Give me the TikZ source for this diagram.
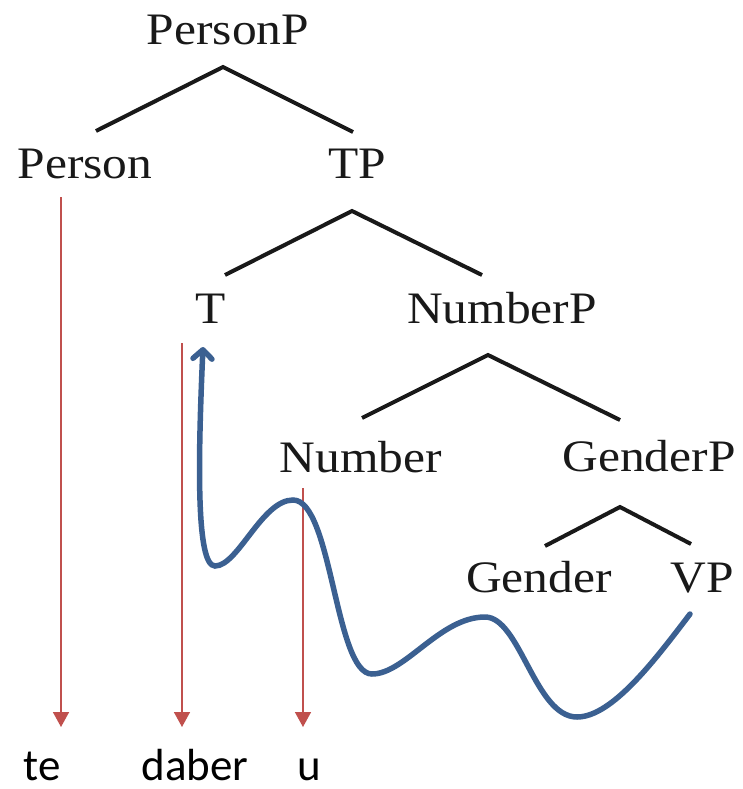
\documentclass[tikz,border=0pt]{standalone}
\usepackage{fontspec}
\newfontfamily\treefont{Liberation Serif}
\newfontfamily\wordfont{Carlito}
\usetikzlibrary{calc,arrows.meta}
\definecolor{redline}{RGB}{192,80,77}
\definecolor{blueline}{RGB}{59,96,145}
\definecolor{treeblack}{RGB}{25,25,25}
\begin{document}
\begin{tikzpicture}[x=1pt,y=-1pt,
  treenode/.style={anchor=base,inner sep=0pt,text=treeblack,font=\treefont\fontsize{45}{54}\selectfont},
  word/.style={anchor=base,inner sep=0pt,text depth=0pt,font=\wordfont\fontsize{45}{54}\selectfont},
  branch/.style={draw=treeblack,line width=4pt},
  redarrow/.style={draw=redline,line width=1.6pt,-{Triangle[length=15pt,width=16pt]}},
  move/.style={draw=blueline,line width=5.5pt,line cap=round,-{Straight Barb[length=9pt,width=19pt,line cap=round,line join=round]}}]
\useasboundingbox (0,0) rectangle (742,789);
% tree labels
\node[treenode] (PersonP) at (228,45) {\scalebox{1.1}[1]{PersonP}};
\node[treenode] (Person) at (85,178) {\scalebox{1.1}[1]{Person}};
\node[treenode] (TP) at (357,178) {\scalebox{1.1}[1]{TP}};
\node[treenode] (T) at (211,323) {\scalebox{1.1}[1]{T}};
\node[treenode] (NumberP) at (502,323) {\scalebox{1.1}[1]{NumberP}};
\node[treenode] (Number) at (361,472) {\scalebox{1.1}[1]{Number}};
\node[treenode] (GenderP) at (649,471) {\scalebox{1.1}[1]{GenderP}};
\node[treenode] (Gender) at (539,592) {\scalebox{1.1}[1]{Gender}};
\node[treenode] (VP) at (702,592) {\scalebox{1.1}[1]{VP}};
% words
\node[word] (te) at (42,780) {te};
\node[word] (daber) at (195,780) {daber};
\node[word] (u) at (309,780) {u};
% branches
\draw[branch] ($(Person.base)+(11,-47)$) -- ($(PersonP.base)+(-5,22)$) -- ($(TP.base)+(-4,-46)$);
\draw[branch] ($(T.base)+(14,-48)$) -- ($(TP.base)+(-5,33)$) -- ($(NumberP.base)+(-20,-48)$);
\draw[branch] ($(Number.base)+(1,-54)$) -- ($(NumberP.base)+(-14,32)$) -- ($(GenderP.base)+(-29,-51)$);
\draw[branch] ($(Gender.base)+(6,-46)$) -- ($(GenderP.base)+(-29,36)$) -- ($(VP.base)+(-11,-48)$);
% red arrows
\draw[redarrow] ($(Person.base)+(-24,19)$) -- ($(te.base)+(19,-53)$);
\draw[redarrow] ($(T.base)+(-29,20)$) -- ($(daber.base)+(-13,-53)$);
\draw[redarrow] ($(Number.base)+(-58,16)$) -- ($(u.base)+(-6,-53)$);
% movement
\coordinate (vpfoot) at ($(VP.base)+(-12,22)$);
\coordinate (thead) at ($(T.base)+(-8,24)$);
\draw[move] (vpfoot)
  .. controls (655,660) and (612,717) .. (577,717)
  .. controls (535,717) and (520,617) .. (485,617)
  .. controls (440,617) and (405,674) .. (372,674)
  .. controls (335,674) and (332,500) .. (293,500)
  .. controls (262,500) and (238,566) .. (215,566)
  .. controls (196,566) and (198,460) .. (thead);
\end{tikzpicture}
\end{document}
